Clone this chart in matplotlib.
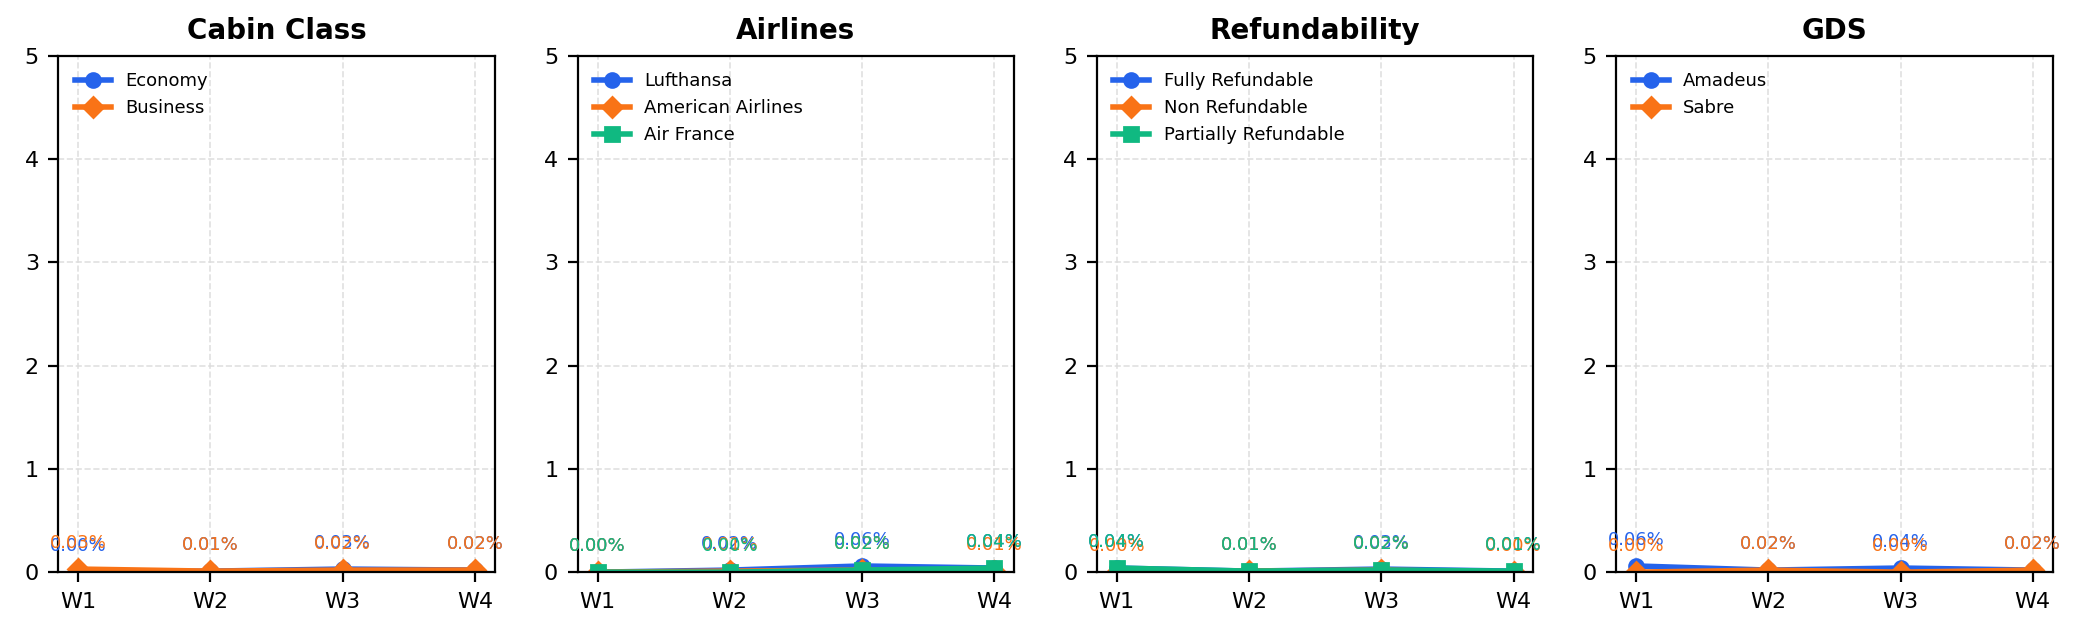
import matplotlib
matplotlib.use("Agg")
import matplotlib.pyplot as plt

weeks = ["W1", "W2", "W3", "W4"]

titles = ["Cabin Class", "Airlines", "Refundability", "GDS"]

cabin_names = ["Economy", "Business"]
cabin_economy = [0.00, 0.01, 0.03, 0.02]
cabin_business = [0.03, 0.01, 0.02, 0.02]

airline_names = ["Lufthansa", "American Airlines", "Air France"]
airline_lufthansa = [0.00, 0.02, 0.06, 0.04]
airline_american = [0.00, 0.01, 0.02, 0.01]
airline_airfrance = [0.00, 0.00, 0.02, 0.04]

refund_names = ["Fully Refundable", "Non Refundable", "Partially Refundable"]
refund_fully = [0.04, 0.01, 0.03, 0.01]
refund_non = [0.00, 0.01, 0.02, 0.00]
refund_partial = [0.04, 0.01, 0.02, 0.01]

gds_names = ["Amadeus", "Sabre"]
gds_amadeus = [0.06, 0.02, 0.04, 0.02]
gds_sabre = [0.00, 0.02, 0.00, 0.02]

panels = [
    (cabin_names, [cabin_economy, cabin_business]),
    (airline_names, [airline_lufthansa, airline_american, airline_airfrance]),
    (refund_names, [refund_fully, refund_non, refund_partial]),
    (gds_names, [gds_amadeus, gds_sabre]),
]

colors = ["#2563eb", "#f97316", "#10b981"]
markers = ["o", "D", "s"]

fig, axes = plt.subplots(1, 4, figsize=(10.43, 3.2), dpi=200)
fig.subplots_adjust(left=0.028, right=0.984, bottom=0.106, top=0.9125, wspace=0.19)

x = list(range(len(weeks)))
for ax, title, (names, series) in zip(axes, titles, panels):
    for i, (name, vals) in enumerate(zip(names, series)):
        ax.plot(x, vals, color=colors[i], marker=markers[i], lw=2, markersize=5,
                label=name)
        for xi, v in zip(x, vals):
            ax.annotate(f"{v:.2f}%", (xi, v), xytext=(0, 6), textcoords="offset points",
                        ha="center", va="bottom", fontsize=6.5, color=colors[i])
    ax.set_title(title, fontsize=10, fontweight="bold")
    ax.set_xticks(x)
    ax.set_xticklabels(weeks)
    ax.set_xlim(-0.15, 3.15)
    ax.set_ylim(0, 5)
    ax.set_yticks([0, 1, 2, 3, 4, 5])
    ax.tick_params(labelsize=8)
    ax.grid(True, linestyle="--", color="#dddddd", linewidth=0.6, alpha=0.9)
    ax.legend(loc="upper left", frameon=False, fontsize=6.5)

fig.savefig("out.png", dpi=200)
